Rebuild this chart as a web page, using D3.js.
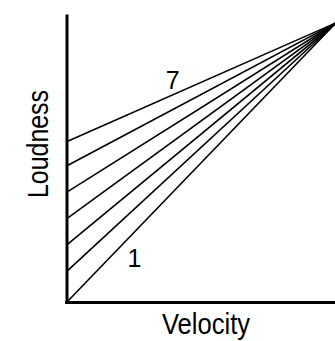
<!DOCTYPE html>
<html>
<head>
<meta charset="utf-8">
<script src="https://cdn.jsdelivr.net/npm/d3@7"></script>
<style>
  html, body { margin: 0; padding: 0; background: #fff; }
  svg { display: block; }
  text { font-family: "Liberation Sans", Arial, Helvetica, sans-serif; fill: #000; }
</style>
</head>
<body>
<svg id="chart" width="335" height="341"></svg>
<script>
// Velocity-to-loudness response curves, numbered 1 (steepest) to 7 (flattest)
const curveIds = [1, 2, 3, 4, 5, 6, 7];
const velocityPoints = [0, 127];
const loudnessAtMinVelocity = [0, 14, 26, 38, 50, 62, 73];
const loudnessAtMaxVelocity = [127, 127, 127, 127, 127, 127, 127];
const labelledCurves = [1, 7];
const labelVelocity = [32, 50];
const labelLoudness = [16, 97];

const svg = d3.select("#chart");

const x = d3.scaleLinear().domain([0, 127]).range([66.5, 336]);
const y = d3.scaleLinear().domain([0, 131]).range([302.5, 14]);

const series = curveIds.map((id, i) => ({
  id,
  points: [
    { v: velocityPoints[0], l: loudnessAtMinVelocity[i] },
    { v: velocityPoints[1], l: loudnessAtMaxVelocity[i] }
  ]
}));

const line = d3.line().x(d => x(d.v)).y(d => y(d.l));

svg.append("g")
  .selectAll("path")
  .data(series)
  .join("path")
  .attr("d", d => line(d.points))
  .attr("fill", "none")
  .attr("stroke", "#000")
  .attr("stroke-width", 1.6);

// Axes: bare domain lines, no ticks
const xAxis = svg.append("g")
  .attr("transform", `translate(0,${y(0)})`)
  .call(d3.axisBottom(x).ticks(0).tickSizeOuter(0));
const yAxis = svg.append("g")
  .attr("transform", `translate(${x(0)},0)`)
  .call(d3.axisLeft(y).ticks(0).tickSizeOuter(0));
[xAxis, yAxis].forEach(g => g.select(".domain").attr("stroke", "#000").attr("stroke-width", 3));
xAxis.select(".domain").attr("d", `M${x(0) - 1.5},0H335`);

// Curve number labels
svg.append("g")
  .selectAll("text")
  .data(labelledCurves.map((c, i) => ({ c, v: labelVelocity[i], l: labelLoudness[i] })))
  .join("text")
  .attr("x", d => x(d.v))
  .attr("y", d => y(d.l))
  .attr("text-anchor", "middle")
  .attr("font-size", 25)
  .text(d => d.c);

// Axis titles
svg.append("text")
  .attr("x", 206)
  .attr("y", 334)
  .attr("text-anchor", "middle")
  .attr("font-size", 30)
  .attr("textLength", 88)
  .attr("lengthAdjust", "spacingAndGlyphs")
  .text("Velocity");

svg.append("text")
  .attr("transform", "translate(48,144) rotate(-90)")
  .attr("text-anchor", "middle")
  .attr("font-size", 30)
  .attr("textLength", 108)
  .attr("lengthAdjust", "spacingAndGlyphs")
  .text("Loudness");
</script>
</body>
</html>
